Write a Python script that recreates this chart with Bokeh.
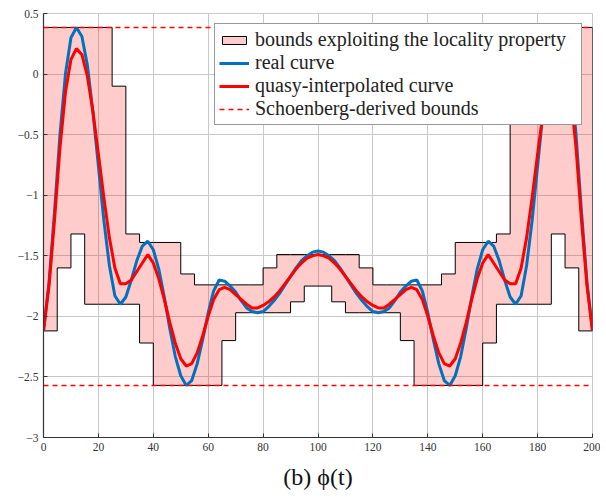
import numpy as np
from bokeh.plotting import figure
from bokeh.models import Range1d, Legend, LegendItem, FixedTicker
from bokeh.embed import file_html
from bokeh.resources import INLINE

# ---------------- data ----------------
# step bounds (segment boundaries and per-segment values)
seg_t = [0, 5, 10, 15, 20, 25, 30, 35, 40, 45, 50, 55, 60, 65, 70, 75, 80, 85, 90, 95, 100,
         105, 110, 115, 120, 125, 130, 135, 140, 145, 150, 155, 160, 165, 170, 175, 180, 185, 190, 195, 200]
upper_bound = [0.385, 0.385, 0.385, 0.385, 0.385, -0.10, -1.32, -1.39, -1.39, -1.39,
               -1.65, -1.74, -1.74, -1.74, -1.74, -1.74, -1.60, -1.49, -1.49, -1.49,
               -1.49, -1.49, -1.49, -1.60, -1.74, -1.74, -1.74, -1.74, -1.74, -1.65,
               -1.39, -1.39, -1.39, -1.32, -0.10, 0.385, 0.385, 0.385, 0.385, 0.385]
lower_bound = [-2.12, -1.60, -1.32, -1.90, -1.90, -1.90, -1.90, -2.22, -2.57, -2.57,
               -2.57, -2.57, -2.57, -2.20, -1.97, -1.97, -1.97, -1.97, -1.88, -1.75,
               -1.75, -1.88, -1.97, -1.97, -1.97, -1.97, -2.20, -2.57, -2.57, -2.57,
               -2.57, -2.57, -2.22, -1.90, -1.90, -1.90, -1.90, -1.32, -1.60, -2.12]

t_curve = list(range(0, 201, 2))
real_curve = [-2.12, -1.72, -1.14, -0.50, 0.00, 0.30, 0.385, 0.31, 0.07, -0.31,
              -0.76, -1.21, -1.58, -1.83, -1.90, -1.84, -1.70, -1.54, -1.42, -1.38,
              -1.45, -1.61, -1.84, -2.10, -2.33, -2.49, -2.57, -2.53, -2.39, -2.19,
              -1.97, -1.79, -1.70, -1.71, -1.75, -1.80, -1.87, -1.93, -1.96, -1.97,
              -1.96, -1.92, -1.87, -1.81, -1.74, -1.67, -1.60, -1.54, -1.50, -1.47,
              -1.46,
              -1.47, -1.50, -1.54, -1.60, -1.67, -1.74, -1.81, -1.87, -1.92, -1.96,
              -1.97, -1.96, -1.93, -1.87, -1.80, -1.75, -1.71, -1.70, -1.79, -1.97,
              -2.19, -2.39, -2.53, -2.57, -2.49, -2.33, -2.10, -1.84, -1.61, -1.45,
              -1.38, -1.42, -1.54, -1.70, -1.84, -1.90, -1.83, -1.58, -1.21, -0.76,
              -0.31, 0.07, 0.31, 0.385, 0.30, 0.00, -0.50, -1.14, -1.72, -2.12]
quasi_curve = [-2.12, -1.75, -1.21, -0.61, -0.15, 0.12, 0.21, 0.16, -0.02, -0.31,
               -0.66, -1.02, -1.35, -1.60, -1.73, -1.73, -1.70, -1.63, -1.56, -1.49,
               -1.56, -1.69, -1.86, -2.05, -2.22, -2.35, -2.41, -2.39, -2.30, -2.16,
               -2.00, -1.86, -1.78, -1.76, -1.78, -1.82, -1.86, -1.90, -1.93, -1.93,
               -1.91, -1.88, -1.84, -1.79, -1.73, -1.67, -1.61, -1.56, -1.52, -1.50,
               -1.49,
               -1.50, -1.52, -1.56, -1.61, -1.67, -1.73, -1.79, -1.84, -1.88, -1.91,
               -1.93, -1.93, -1.90, -1.86, -1.82, -1.78, -1.76, -1.78, -1.86, -2.00,
               -2.16, -2.30, -2.39, -2.41, -2.35, -2.22, -2.05, -1.86, -1.69, -1.56,
               -1.49, -1.56, -1.63, -1.70, -1.73, -1.73, -1.60, -1.35, -1.02, -0.66,
               -0.31, -0.02, 0.16, 0.21, 0.12, -0.15, -0.61, -1.21, -1.75, -2.12]
schoenberg_upper = 0.385
schoenberg_lower = -2.57

x_ticks = [0, 20, 40, 60, 80, 100, 120, 140, 160, 180, 200]
y_ticks = [0.5, 0, -0.5, -1, -1.5, -2, -2.5, -3]
y_tick_labels = ["0.5", "0", "\u22120.5", "\u22121", "\u22121.5", "\u22122", "\u22122.5", "\u22123"]

legend_labels = ["bounds exploiting the locality property", "real curve",
                 "quasy-interpolated curve", "Schoenberg-derived bounds"]
caption = "(b) \u03d5(t)"

# ---------------- figure ----------------
FONT = "Liberation Serif"
p = figure(frame_width=549, frame_height=424, output_backend="svg", toolbar_location=None,
           x_range=Range1d(0, 200), y_range=Range1d(-3, 0.5),
           min_border_left=43, min_border_top=13, min_border_right=8, min_border_bottom=54)
p.background_fill_color = "white"
p.border_fill_color = "white"
p.outline_line_color = "#c8c8c8"

# bounds polygon
edges = np.asarray(seg_t, dtype=float)
xu = np.repeat(edges, 2)[1:-1]
yu = np.repeat(np.asarray(upper_bound), 2)
yl = np.repeat(np.asarray(lower_bound), 2)
poly_x = np.concatenate([xu, xu[::-1]])
poly_y = np.concatenate([yu, yl[::-1]])
r_fill = p.patch(poly_x, poly_y, fill_color="red", fill_alpha=0.2,
                 line_color="black", line_width=1)

r_real = p.line(t_curve, real_curve, line_color="#0072BD", line_width=3)
r_quasi = p.line(t_curve, quasi_curve, line_color="#FF0000", line_width=3)

r_sch = p.line([0, 200], [schoenberg_upper, schoenberg_upper], line_color="#FF0000",
               line_width=1.5, line_dash="5 4")
p.line([0, 200], [schoenberg_lower, schoenberg_lower], line_color="#FF0000",
       line_width=1.5, line_dash="5 4")

# grid
p.xgrid.ticker = FixedTicker(ticks=x_ticks)
p.ygrid.ticker = FixedTicker(ticks=y_ticks)
for g in (p.xgrid, p.ygrid):
    g.grid_line_color = "#c8c8c8"
    g.grid_line_width = 1

# axes
p.xaxis.ticker = FixedTicker(ticks=x_ticks)
p.yaxis.ticker = FixedTicker(ticks=y_ticks)
p.yaxis.major_label_overrides = {t: l for t, l in zip(y_ticks, y_tick_labels)}
for ax in (p.xaxis, p.yaxis):
    ax.axis_line_color = "#333333"
    ax.axis_line_width = 1.2
    ax.major_tick_in = 4
    ax.major_tick_out = 0
    ax.major_tick_line_color = "#333333"
    ax.minor_tick_line_color = None
    ax.major_label_text_font = FONT
    ax.major_label_text_font_size = "11.5px"
    ax.major_label_text_color = "#333333"
    ax.major_label_standoff = 5

p.xaxis.axis_label = caption
p.xaxis.axis_label_text_font = FONT
p.xaxis.axis_label_text_font_style = "normal"
p.xaxis.axis_label_text_font_size = "24px"
p.xaxis.axis_label_text_color = "#111111"
p.xaxis.axis_label_standoff = 10

# legend
legend = Legend(items=[
    LegendItem(label=legend_labels[0], renderers=[r_fill]),
    LegendItem(label=legend_labels[1], renderers=[r_real]),
    LegendItem(label=legend_labels[2], renderers=[r_quasi]),
    LegendItem(label=legend_labels[3], renderers=[r_sch]),
], location="top_right")
legend.margin = 10
legend.padding = 4
legend.spacing = -4
legend.label_height = 20
legend.label_width = 322
legend.glyph_height = 10
legend.glyph_width = 30
legend.label_standoff = 6
legend.label_text_font = FONT
legend.label_text_font_size = "20px"
legend.label_text_color = "#222222"
legend.border_line_color = "#333333"
legend.border_line_width = 1
legend.background_fill_alpha = 1.0
legend.background_fill_color = "white"
p.add_layout(legend)

open("out.html", "w").write(file_html(p, INLINE))
